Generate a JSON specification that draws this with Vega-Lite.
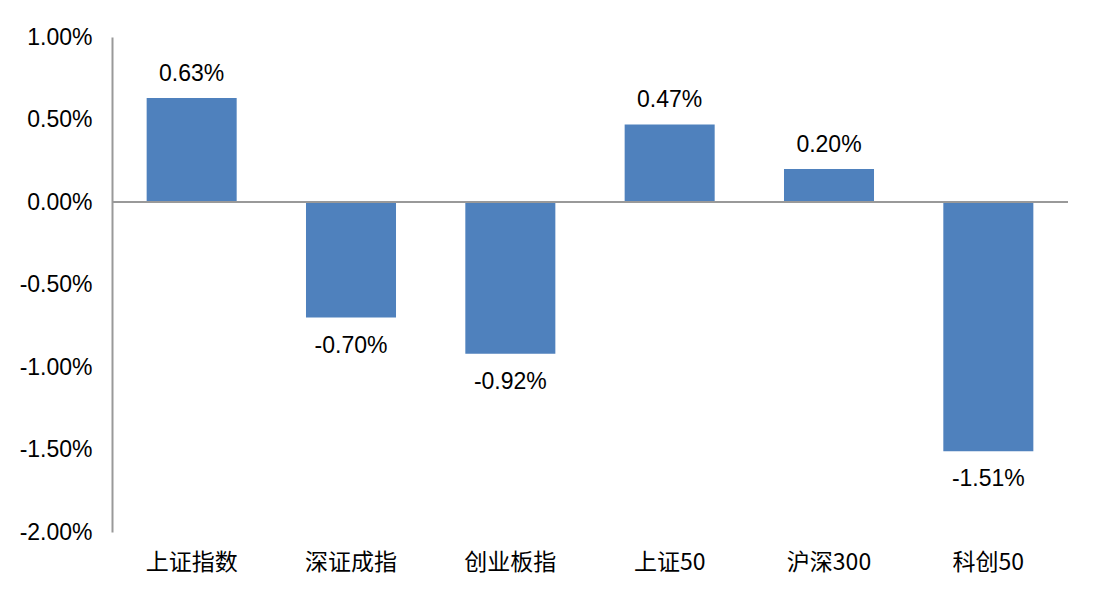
{
  "$schema": "https://vega.github.io/schema/vega-lite/v6.json",
  "width": 956,
  "height": 495,
  "autosize": "none",
  "padding": {"left": 112, "top": 37, "right": 36, "bottom": 62},
  "background": "white",
  "config": {"view": {"stroke": null}, "font": "Liberation Sans"},
  "data": {"values": [
    {"index": "上证指数", "change": 0.0063},
    {"index": "深证成指", "change": -0.0070},
    {"index": "创业板指", "change": -0.0092},
    {"index": "上证50", "change": 0.0047},
    {"index": "沪深300", "change": 0.0020},
    {"index": "科创50", "change": -0.0151}
  ]},
  "transform": [{"calculate": "replace(format(datum.change, '.2%'), '\u2212', '-')", "as": "label"}],
  "encoding": {
    "x": {"field": "index", "type": "nominal", "sort": null,
      "scale": {"paddingInner": 0.435, "paddingOuter": 0.2175},
      "axis": {"title": null, "labelAngle": 0, "domain": false, "ticks": false, "labelPadding": 19, "labelFontSize": 23, "labelFont": "Noto Sans CJK SC", "labelColor": "#000"}},
    "y": {"field": "change", "type": "quantitative",
      "scale": {"domain": [-0.02, 0.01], "nice": false},
      "axis": {"title": null, "labelExpr": "replace(format(datum.value, '.2%'), '\u2212', '-')", "values": [-0.02, -0.015, -0.01, -0.005, 0, 0.005, 0.01], "grid": false, "ticks": false, "domainColor": "#999999", "domainWidth": 2, "labelFontSize": 23, "labelColor": "#000", "labelPadding": 20}}
  },
  "layer": [
    {"mark": {"type": "bar", "color": "#4F81BD"}},
    {"mark": {"type": "rule", "color": "#999999", "strokeWidth": 2}, "encoding": {"x": null, "y": {"datum": 0, "type": "quantitative"}}},
    {"transform": [{"filter": "datum.change >= 0"}],
     "mark": {"type": "text", "baseline": "bottom", "dy": -12, "fontSize": 23, "color": "#000"},
     "encoding": {"text": {"field": "label", "type": "nominal"}}},
    {"transform": [{"filter": "datum.change < 0"}],
     "mark": {"type": "text", "baseline": "top", "dy": 17, "fontSize": 23, "color": "#000"},
     "encoding": {"text": {"field": "label", "type": "nominal"}}}
  ]
}
